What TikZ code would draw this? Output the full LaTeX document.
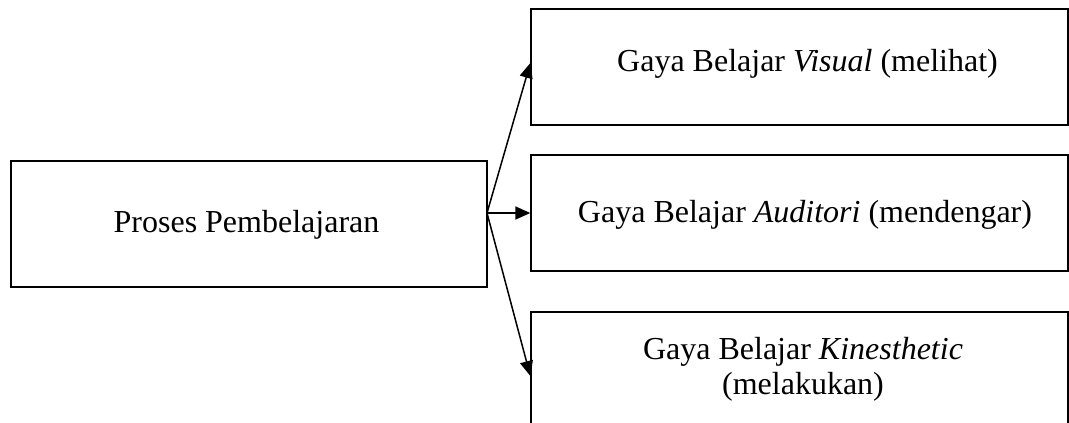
\documentclass[tikz,border=0pt]{standalone}
\usepackage{fontspec}
\setmainfont{Liberation Serif}
\usetikzlibrary{arrows.meta}

\tikzset{gayabox/.style={draw, line width=1.3pt, minimum width=537pt, minimum height=116pt, inner sep=0pt}}

\begin{document}
\begin{tikzpicture}[->,>={Triangle[length=15pt,width=13pt]},x=1pt,y=-1pt,line width=1.5pt,font=\fontsize{32}{35}\selectfont]
                \useasboundingbox (0,0) rectangle (1069,423);
                \clip (0,0) rectangle (1069,423);
                \node[gayabox, minimum width=476pt, minimum height=126pt,
                      label={[xshift=-2.5pt,yshift=-1pt]center:Proses Pembelajaran}] (proses) at (249,224) {};
                \node[gayabox, label={[xshift=8pt,yshift=3pt]center:Gaya Belajar \textit{Visual} (melihat)}] (visual) at (799.5,67) {};
                \node[gayabox, label={[xshift=5.5pt,yshift=-2pt]center:Gaya Belajar \textit{Auditori} (mendengar)}] (auditori) at (799.5,213) {};
                \node[gayabox, label={[xshift=3.5pt,yshift=1pt,align=center]center:Gaya Belajar \textit{Kinesthetic}\\(melakukan)}] (kines) at (799.5,370) {};
                \coordinate (fork) at (487,213);
                \path
                (fork) edge ([yshift=4pt]visual.west)
                       edge (auditori.west)
                       edge ([yshift=-6pt]kines.west)
                ;
            \end{tikzpicture}
\end{document}
